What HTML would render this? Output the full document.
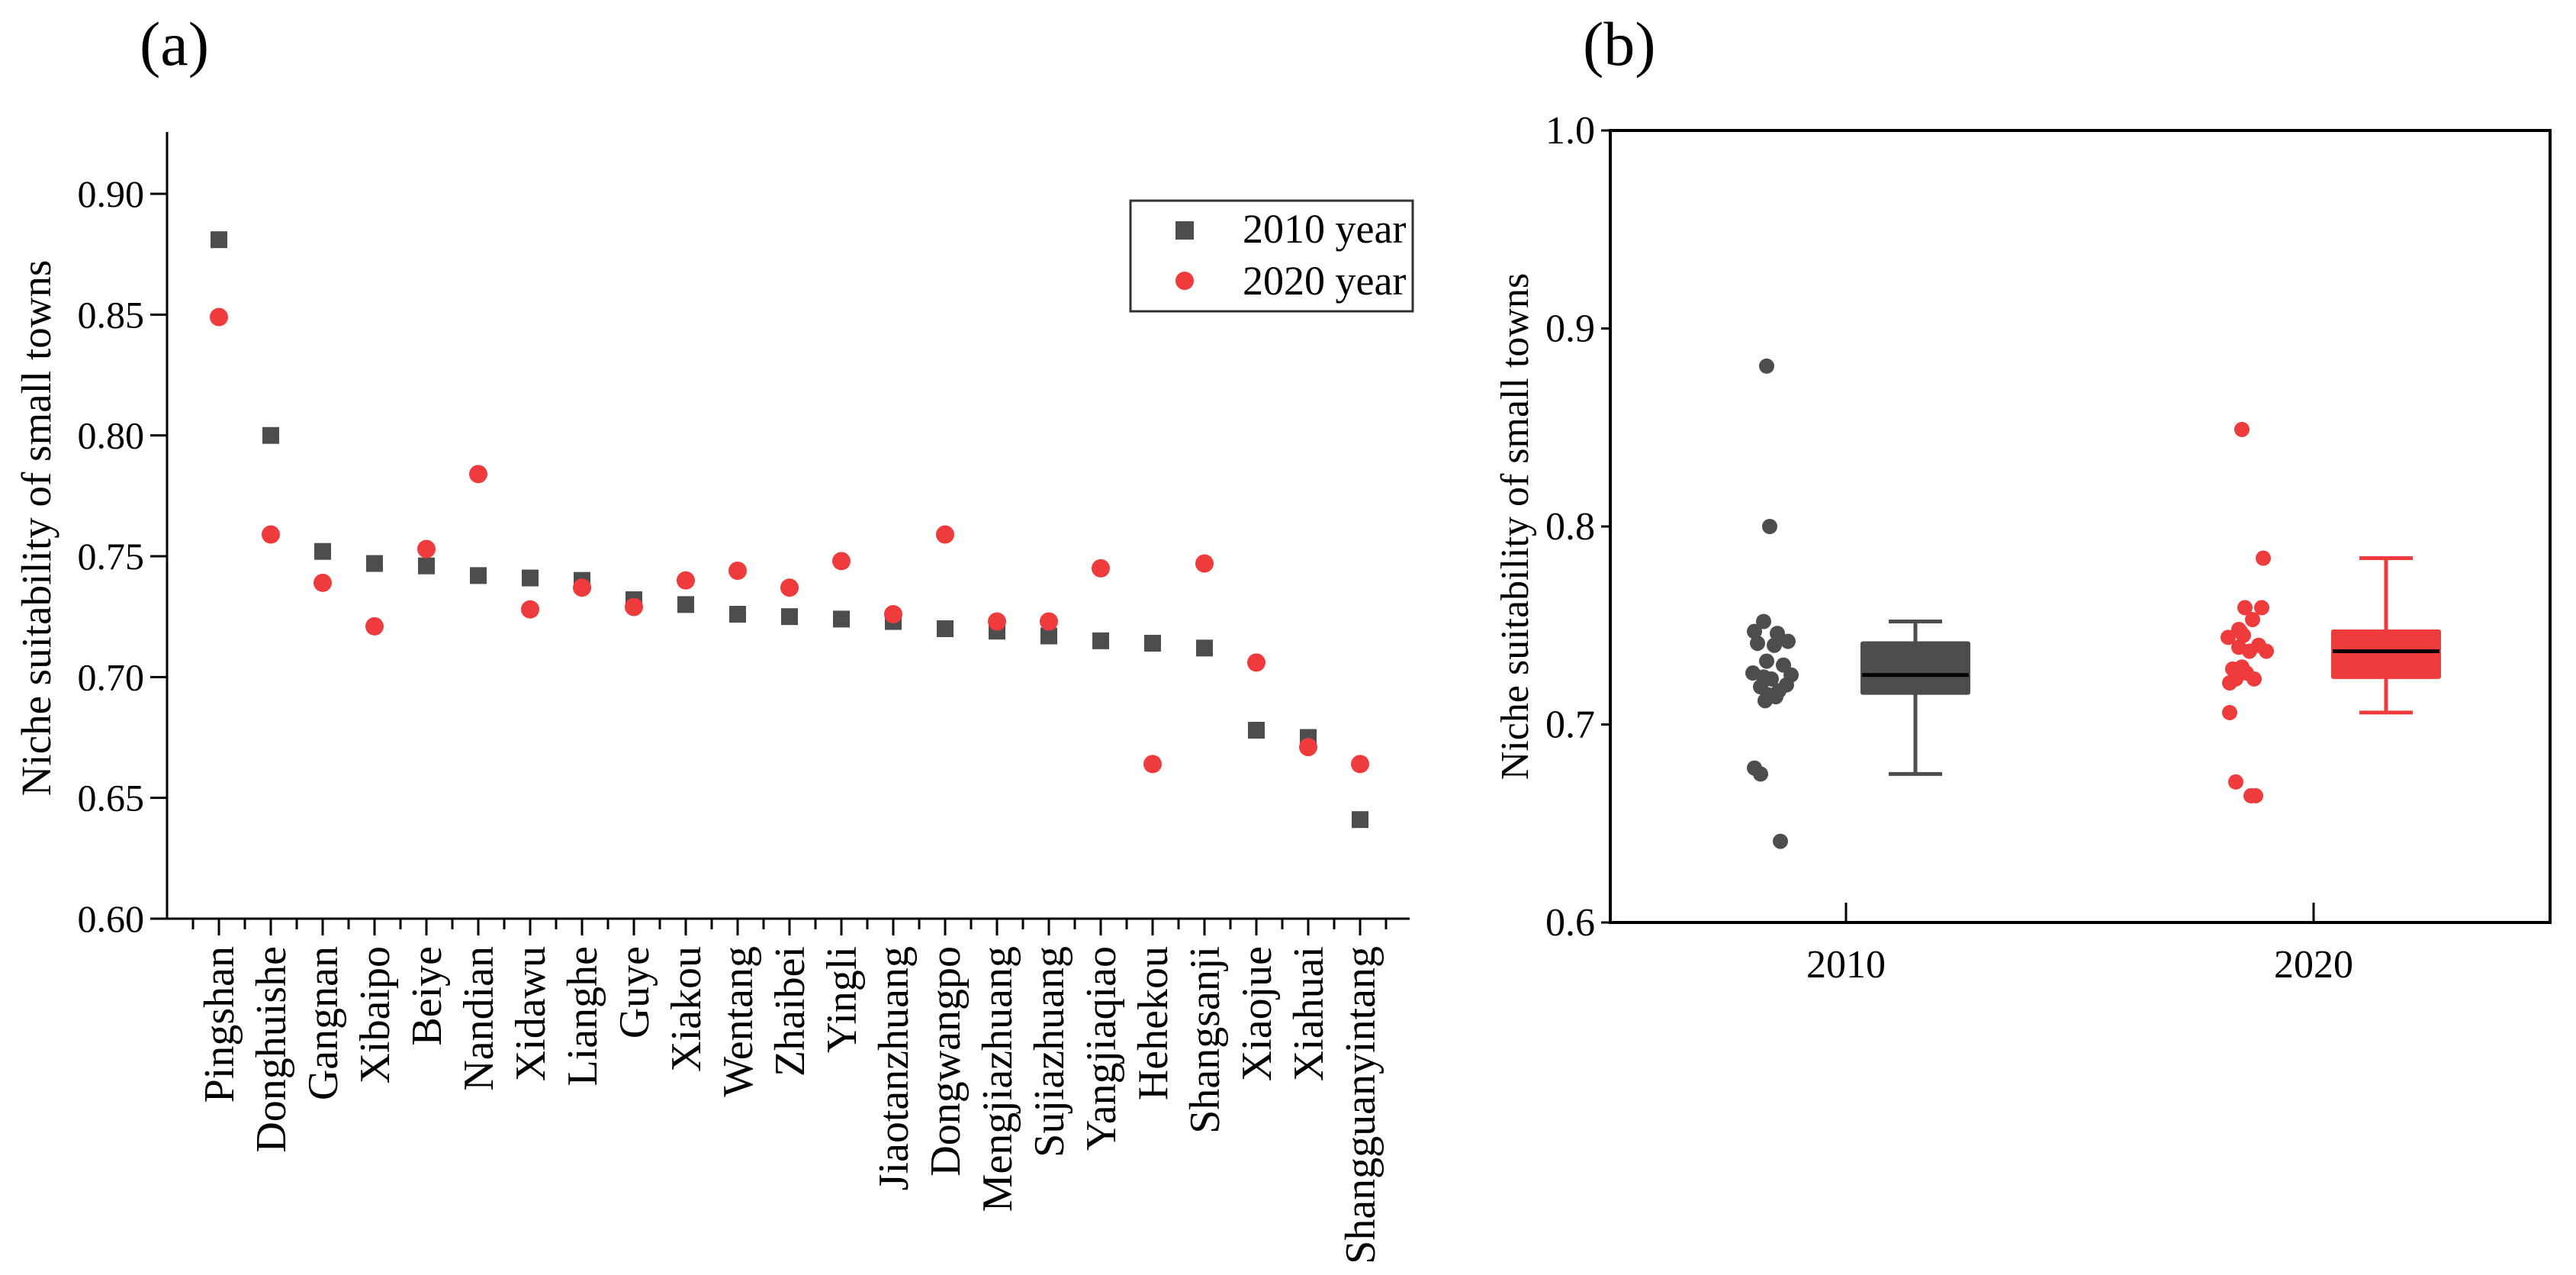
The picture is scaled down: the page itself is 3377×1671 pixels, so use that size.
<!DOCTYPE html>
<html><head><meta charset="utf-8"><style>html,body{margin:0;padding:0;background:#fff}svg{display:block;font-family:"Liberation Serif",serif}</style></head>
<body>
<svg id="c" width="3377" height="1671" viewBox="0 0 3377 1671" xmlns="http://www.w3.org/2000/svg"></svg>
<script>
const towns=["Pingshan","Donghuishe","Gangnan","Xibaipo","Beiye","Nandian","Xidawu","Lianghe","Guye","Xiakou","Wentang","Zhaibei","Yingli","Jiaotanzhuang","Dongwangpo","Mengjiazhuang","Sujiazhuang","Yangjiaqiao","Hehekou","Shangsanji","Xiaojue","Xiahuai","Shangguanyintang"];
const v2010=[0.881,0.800,0.752,0.747,0.746,0.742,0.741,0.740,0.732,0.730,0.726,0.725,0.724,0.723,0.720,0.719,0.717,0.715,0.714,0.712,0.678,0.675,0.641];
const v2020=[0.849,0.759,0.739,0.721,0.753,0.784,0.728,0.737,0.729,0.740,0.744,0.737,0.748,0.726,0.759,0.723,0.723,0.745,0.664,0.747,0.706,0.671,0.664];
const ticksA=[0.60,0.65,0.70,0.75,0.80,0.85,0.90];
const ticksB=[0.6,0.7,0.8,0.9,1.0];
const groupsB=["2010","2020"];
const box2010=[0.675,0.715,0.725,0.742,0.752];
const box2020=[0.706,0.723,0.737,0.748,0.784];
const jitter=[-6,-2,-10,-22,8,22,-18,4,-6,16,-24,26,-10,0,20,-14,10,-4,6,-8,-22,-14,12];
const DARK="#4d4d4d",RED="#ef3b3b";
const svg=document.getElementById('c');
function el(t,a,txt){const e=document.createElementNS("http://www.w3.org/2000/svg",t);for(const k in a)e.setAttribute(k,a[k]);if(txt!==undefined)e.textContent=txt;svg.appendChild(e);return e;}
// Panel a
const ax0=219,ax1=1848,ayTop=173,ay0=1204;
const yA=v=>ay0-(v-0.60)/0.30*(ay0-254);
const xA=i=>287+i*(1783-287)/22;
let e;
e=el('text',{x:183,y:85,'font-size':82},'(a)');

e=el('path',{d:`M${ax0},${ayTop}V${ay0}H${ax1}`,stroke:'#000','stroke-width':3,fill:'none'});

ticksA.forEach(t=>{
  e=el('line',{x1:ax0-22,x2:ax0,y1:yA(t),y2:yA(t),stroke:'#000','stroke-width':3});
  
  e=el('text',{x:ax0-30,y:yA(t)+17,'font-size':50,'text-anchor':'end'},t.toFixed(2));
  
});
const step=(1783-287)/22;
for(let i=-1;i<=towns.length;i++){
  const x=xA(i)+step/2;
  if(x>ax0&&x<=ax1+1){e=el('line',{x1:x,x2:x,y1:ay0,y2:ay0+14,stroke:'#000','stroke-width':3});
  }
}
towns.forEach((t,i)=>{
  const x=xA(i);
  e=el('line',{x1:x,x2:x,y1:ay0,y2:ay0+22,stroke:'#000','stroke-width':3});
  
  e=el('text',{transform:`translate(${x+19},1240) rotate(-90)`,'font-size':56,'text-anchor':'end'},t);
  
  e=el('rect',{x:x-11,y:yA(v2010[i])-11,width:22,height:22,fill:DARK});
  
  e=el('circle',{cx:x,cy:yA(v2020[i]),r:12,fill:RED});
  
});
e=el('text',{transform:'translate(66,692) rotate(-90)','font-size':55,'text-anchor':'middle'},'Niche suitability of small towns');

e=el('rect',{x:1482,y:263,width:370,height:145,fill:'#fff',stroke:'#333','stroke-width':3});

e=el('rect',{x:1541,y:290,width:24,height:24,fill:DARK});

e=el('text',{x:1629,y:318,'font-size':54},'2010 year');

e=el('circle',{cx:1553,cy:368,r:12,fill:RED});

e=el('text',{x:1629,y:386,'font-size':54},'2020 year');

// Panel b
const bx0=2111,bx1=3343,byTop=171,by0=1209;
const yB=v=>by0-(v-0.6)/0.4*(by0-byTop);
const gx=[2420,3033];
e=el('text',{x:2075,y:85,'font-size':82},'(b)');

e=el('rect',{x:bx0,y:byTop,width:bx1-bx0,height:by0-byTop,fill:'none',stroke:'#000','stroke-width':4});

ticksB.forEach(t=>{
  e=el('line',{x1:bx0-12,x2:bx0,y1:yB(t),y2:yB(t),stroke:'#000','stroke-width':3});
  
  e=el('text',{x:bx0-20,y:yB(t)+17,'font-size':52,'text-anchor':'end'},t.toFixed(1));
  
});
e=el('text',{transform:'translate(2003,690) rotate(-90)','font-size':52,'text-anchor':'middle'},'Niche suitability of small towns');

const sets=[[v2010,box2010,DARK],[v2020,box2020,RED]];
const dotC=[2322,2945],boxC=[2511,3128];
sets.forEach(([vals,bx,col],g)=>{
  const cx=gx[g];
  e=el('line',{x1:cx,x2:cx,y1:by0,y2:by0-26,stroke:'#000','stroke-width':3});
  
  e=el('text',{x:cx,y:by0+72,'font-size':52,'text-anchor':'middle'},groupsB[g]);
  
  vals.forEach((v,i)=>{
    e=el('circle',{cx:dotC[g]+jitter[i],cy:yB(v),r:10,fill:col});
    
  });
  const bc=boxC[g],hw=72,cw=35;
  e=el('line',{x1:bc,x2:bc,y1:yB(bx[0]),y2:yB(bx[4]),stroke:col,'stroke-width':5});
  
  [bx[0],bx[4]].forEach(w=>{e=el('line',{x1:bc-cw,x2:bc+cw,y1:yB(w),y2:yB(w),stroke:col,'stroke-width':5});
  });
  e=el('rect',{x:bc-hw,y:yB(bx[3]),width:2*hw,height:yB(bx[1])-yB(bx[3]),fill:col,rx:3});
  
  e=el('line',{x1:bc-hw+2,x2:bc+hw-2,y1:yB(bx[2]),y2:yB(bx[2]),stroke:'#000','stroke-width':5});
  
});
</script>
</body></html>
